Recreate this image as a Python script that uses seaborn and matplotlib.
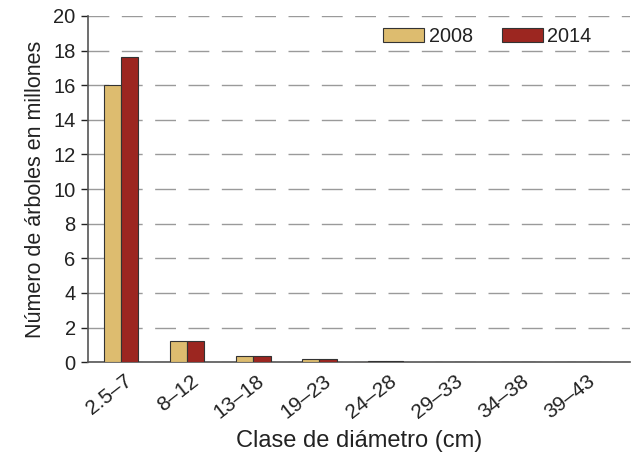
import matplotlib
matplotlib.use("Agg")
import matplotlib.pyplot as plt
import matplotlib.transforms as mtransforms
import seaborn as sns
import pandas as pd

categories = ["2.5\u20137", "8\u201312", "13\u201318", "19\u201323", "24\u201328", "29\u201333", "34\u201338", "39\u201343"]
values_2008 = [16.0, 1.25, 0.33, 0.2, 0.06, 0.03, 0.0, 0.0]
values_2014 = [17.6, 1.25, 0.33, 0.17, 0.06, 0.0, 0.0, 0.0]
years = ["2008", "2014"]
colors = ["#DDBC6F", "#9C2620"]

df = pd.DataFrame({
    "clase": categories * 2,
    "valor": values_2008 + values_2014,
    "anio": [years[0]] * len(categories) + [years[1]] * len(categories),
})

sns.set_style("white")
plt.rcParams["font.family"] = ["Liberation Sans", "DejaVu Sans"]

fig = plt.figure(figsize=(6.34, 4.55), dpi=100)
ax = fig.add_axes([0.139, 0.204, 0.855, 0.761])

sns.barplot(data=df, x="clase", y="valor", hue="anio", palette=colors, saturation=1,
            width=0.52, edgecolor="#333333", linewidth=0.8, ax=ax, zorder=3)

ax.set_ylim(0, 20)
ax.set_xlim(-0.5, 7.7)
ax.set_yticks(range(0, 21, 2))
ax.yaxis.grid(True, color="#9a9a9a", linestyle=(0, (15, 9)), linewidth=1.0, zorder=0)
ax.set_axisbelow(True)

for s in ["top", "right"]:
    ax.spines[s].set_visible(False)
for s in ["left", "bottom"]:
    ax.spines[s].set_color("#555555")
    ax.spines[s].set_linewidth(1.2)

ax.tick_params(axis="y", left=True, direction="out", length=5, width=1, colors="#222222", labelsize=14.5, pad=4)
ax.tick_params(axis="x", bottom=False, labelsize=15, colors="#222222", pad=3)
shift = mtransforms.ScaledTranslation(3 / 100, 0, fig.dpi_scale_trans)
for lbl in ax.get_xticklabels():
    lbl.set_rotation(38)
    lbl.set_ha("right")
    lbl.set_rotation_mode("anchor")
    lbl.set_transform(lbl.get_transform() + shift)

ax.set_xlabel("Clase de di\u00e1metro (cm)", fontsize=17, color="#222222")
ax.xaxis.set_label_coords(0.5, -0.195)
ax.set_ylabel("N\u00famero de \u00e1rboles en millones", fontsize=15.5, color="#222222", labelpad=5)

leg = ax.legend(loc="upper right", bbox_to_anchor=(0.962, 1.02), ncol=2, frameon=False,
                fontsize=14.3, handlelength=2.05, handleheight=0.75, columnspacing=1.45,
                handletextpad=0.25)
for t in leg.get_texts():
    t.set_color("#222222")

fig.savefig("out.png", dpi=100)
